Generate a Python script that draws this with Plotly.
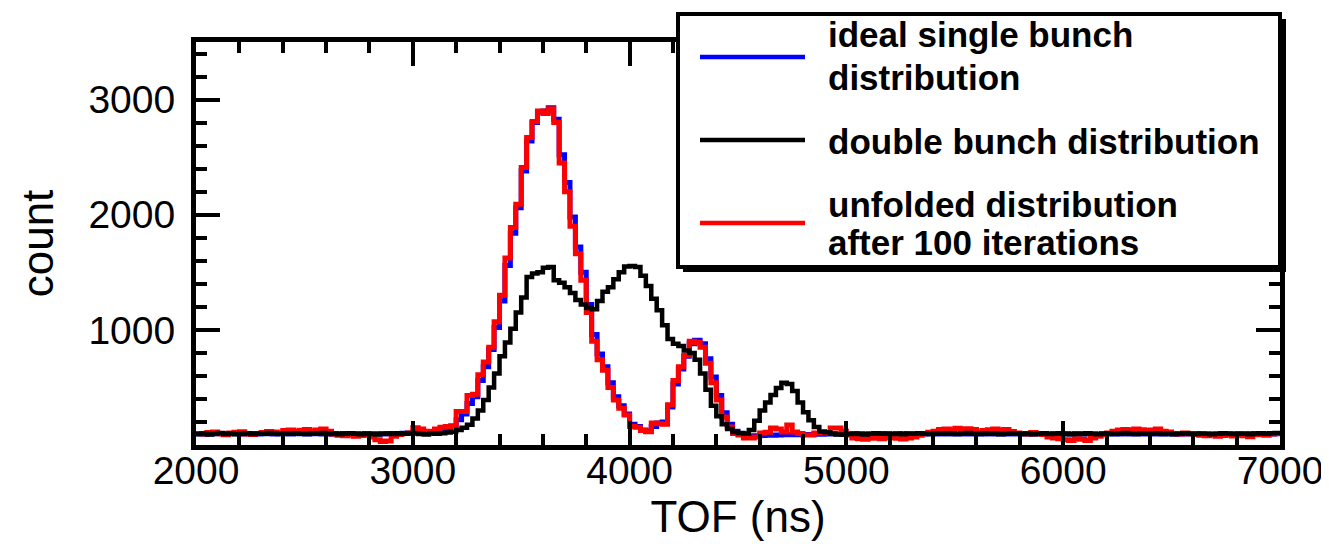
import plotly.graph_objects as go

# ---------------- data (histograms, 25 ns bins from 2000 to 7000 ns) ----------------
tof_edges = list(range(2000, 7001, 25))  # 201 bin edges

double_bunch = [
    95, 100, 92, 98, 104, 96, 100, 94,          # 2000-2175
    98, 102, 95, 100, 97, 104, 99, 96,          # 2200
    100, 97, 103, 98, 95, 101, 99, 104,         # 2400
    96, 100, 94, 98, 102, 97, 93, 99,           # 2600
    95, 92, 97, 100, 96, 103, 98, 101,          # 2800
    100, 95, 92, 100, 97, 102, 108, 115,        # 3000
    130, 150, 175, 230, 300, 390, 500, 620,     # 3200
    770, 890, 1010, 1150, 1280, 1460, 1490, 1500,   # 3400
    1540, 1545, 1430, 1410, 1370, 1320, 1260, 1220, # 3600
    1190, 1180, 1250, 1330, 1370, 1440, 1500, 1550, # 3800
    1555, 1545, 1470, 1380, 1270, 1170, 1040, 920,  # 4000
    880, 860, 820, 800, 740, 620, 480, 340,     # 4200
    250, 180, 140, 113, 104, 100, 130, 210,     # 4400
    300, 370, 435, 496, 540, 530, 470, 370,     # 4600
    285, 215, 157, 118, 110, 100, 92, 88,       # 4800
    95, 100, 96, 92, 98, 103, 97, 100,          # 5000
    96, 99, 94, 100, 97, 102, 98, 95,           # 5200
    100, 97, 103, 99, 96, 100, 104, 98,         # 5400
    95, 101, 97, 100, 94, 98, 102, 99,          # 5600
    96, 100, 93, 97, 101, 95, 99, 103,          # 5800
    98, 94, 100, 96, 102, 97, 93, 99,           # 6000
    101, 96, 100, 104, 98, 95, 100, 97,         # 6200
    99, 103, 96, 100, 94, 98, 101, 97,          # 6400
    95, 100, 98, 93, 97, 102, 99, 96,           # 6600
    100, 97, 94, 99, 103, 98, 101, 104,         # 6800
]

ideal_single = [
    96, 98, 95, 97, 99, 96, 98, 97,
    95, 98, 100, 96, 97, 99, 95, 98,
    97, 96, 99, 98, 95, 97, 100, 96,
    98, 95, 97, 99, 96, 98, 95, 97,
    96, 98, 95, 97, 99, 100, 102, 105,
    108, 110, 112, 118, 125, 135, 150, 165,
    220, 270, 360, 420, 560, 680, 830, 1020,
    1250, 1560, 1840, 2060, 2380, 2640, 2800, 2890,
    2900, 2930, 2830, 2520, 2280, 1980, 1720, 1500,
    1220, 960, 790, 680, 540, 420, 340, 270,
    180, 160, 130, 118, 160, 190, 200, 330,
    530, 660, 770, 880, 910, 880, 750, 590,
    430, 280, 180, 120, 95, 80, 78, 80,
    82, 84, 85, 86, 88, 90, 90, 90,
    92, 92, 93, 94, 95, 95, 96, 96,
    96, 95, 97, 96, 95, 96, 97, 96,
    95, 96, 97, 96, 96, 95, 96, 97,
    96, 97, 96, 95, 96, 97, 96, 96,
    95, 96, 97, 96, 95, 96, 96, 97,
    96, 95, 96, 97, 96, 96, 95, 96,
    97, 96, 95, 96, 97, 96, 96, 95,
    96, 97, 96, 96, 95, 96, 97, 96,
    95, 96, 96, 97, 96, 95, 96, 96,
    97, 96, 95, 96, 96, 97, 96, 95,
    96, 96, 97, 96, 95, 96, 96, 97,
]

unfolded = [
    100, 95, 108, 112, 98, 90, 104, 110,
    115, 96, 92, 100, 108, 118, 112, 104,
    125, 130, 118, 128, 135, 122, 130, 138,
    120, 95, 85, 80, 90, 75, 82, 88,
    70, 45, 30, 35, 75, 92, 100, 105,
    150, 140, 120, 115, 140, 155, 160, 165,
    290, 290, 430, 440, 610, 720, 850, 1070,
    1300, 1625, 1890, 2090, 2410, 2670, 2810, 2900,
    2880, 2920, 2800, 2450, 2200, 1900, 1660, 1430,
    1150, 900, 740, 650, 500, 390, 320, 260,
    160, 155, 125, 115, 190, 185, 180, 350,
    560, 680, 780, 900, 890, 850, 710, 540,
    390, 243, 157, 100, 87, 60, 60, 70,
    104, 110, 148, 140, 113, 174, 113, 100,
    87, 87, 104, 104, 104, 148, 148, 120,
    87, 60, 55, 50, 58, 62, 55, 60,
    65, 58, 52, 60, 70, 85, 100, 110,
    120, 135, 140, 130, 145, 138, 142, 135,
    110, 125, 132, 140, 128, 135, 118, 105,
    100, 95, 108, 98, 92, 70, 60, 55,
    45, 40, 55, 50, 38, 60, 75, 90,
    105, 120, 130, 135, 128, 140, 132, 125,
    130, 138, 120, 112, 100, 95, 105, 98,
    92, 85, 80, 88, 75, 82, 90, 78,
    85, 80, 72, 88, 92, 85, 95, 100,
]

legend_labels = [
    ["ideal single bunch", "distribution"],
    ["double bunch distribution"],
    ["unfolded distribution", "after 100 iterations"],
]
series_colors = ["#0000FF", "#000000", "#FF0000"]

FONT = "Liberation Sans, Arial, sans-serif"

# ---------------- figure ----------------
# the page body has an 8 px margin, so the figure is drawn 8 px in from the window corner
OFF = 8
W, H = 1329 - OFF, 544 - OFF
# plot-area box in window (reference) pixels
L_ref, R_ref, T_ref, B_ref = 196, 1280, 42, 445
L, R, T, B = L_ref - OFF, R_ref - OFF, T_ref - OFF, B_ref - OFF


def step_y(vals):
    return list(vals) + [vals[-1]]


fig = go.Figure()
fig.add_trace(go.Scatter(x=tof_edges, y=step_y(ideal_single), mode="lines",
                         line=dict(color=series_colors[0], width=5, shape="hv"),
                         name="ideal single bunch distribution"))
fig.add_trace(go.Scatter(x=tof_edges, y=step_y(unfolded), mode="lines",
                         line=dict(color=series_colors[2], width=5, shape="hv"),
                         name="unfolded distribution after 100 iterations"))
fig.add_trace(go.Scatter(x=tof_edges, y=step_y(double_bunch), mode="lines",
                         line=dict(color=series_colors[1], width=4.5, shape="hv"),
                         name="double bunch distribution"))

axis_common = dict(
    ticks="inside", ticklen=24, tickwidth=4, tickcolor="black",
    showline=True, linewidth=5, linecolor="black", mirror="allticks",
    showgrid=False, zeroline=False, automargin=False,
    tickfont=dict(family=FONT, size=39, color="black"),
)

fig.update_xaxes(
    range=[2000, 7000], tickmode="linear", tick0=2000, dtick=1000,
    minor=dict(tick0=2000, dtick=200, ticks="inside", ticklen=11, tickwidth=4,
               tickcolor="black", showgrid=False),
    ticklabelstandoff=-13,
    title=dict(text="TOF (ns)", font=dict(family=FONT, size=44, color="black"), standoff=6),
    **axis_common,
)
fig.update_yaxes(
    range=[0, 3500], tickmode="array", tickvals=[1000, 2000, 3000],
    ticktext=["1000", "2000", "3000"],
    minor=dict(tickmode="linear", tick0=0, dtick=200, ticks="inside", ticklen=11,
               tickwidth=4, tickcolor="black", showgrid=False),
    ticklabelstandoff=8,
    title=dict(text="count", font=dict(family=FONT, size=44, color="black"), standoff=23),
    **axis_common,
)


def px(x_ref):
    return (x_ref - OFF - L) / (R - L)


def py(y_ref):
    return (B - (y_ref - OFF)) / (B - T)


shapes = [
    # legend shadow and box
    dict(type="rect", xref="paper", yref="paper", layer="above",
         x0=px(683), x1=px(1286), y0=py(272), y1=py(19),
         fillcolor="black", line=dict(width=0)),
    dict(type="rect", xref="paper", yref="paper", layer="above",
         x0=px(678), x1=px(1280), y0=py(267), y1=py(14),
         fillcolor="white", line=dict(color="black", width=4)),
]
line_rows = [57, 140, 223]
for c, yy in zip(series_colors, line_rows):
    shapes.append(dict(type="line", xref="paper", yref="paper", layer="above",
                       x0=px(700), x1=px(805), y0=py(yy), y1=py(yy),
                       line=dict(color=c, width=4.5)))

text_rows = [[35, 78], [141], [204, 242]]
annotations = []
for labels, rows in zip(legend_labels, text_rows):
    for txt, yy in zip(labels, rows):
        annotations.append(dict(text=txt, xref="paper", yref="paper",
                                x=px(827), y=py(yy), xanchor="left", yanchor="middle",
                                showarrow=False, borderpad=0,
                                font=dict(family=FONT, size=35, color="black", weight="bold")))

fig.update_layout(
    width=W, height=H,
    margin=dict(l=L, r=W - R, t=T, b=H - B, pad=0, autoexpand=False),
    paper_bgcolor="white", plot_bgcolor="white",
    showlegend=False,
    font=dict(family=FONT, color="black"),
    shapes=shapes, annotations=annotations,
)

fig.write_html("out.html")
